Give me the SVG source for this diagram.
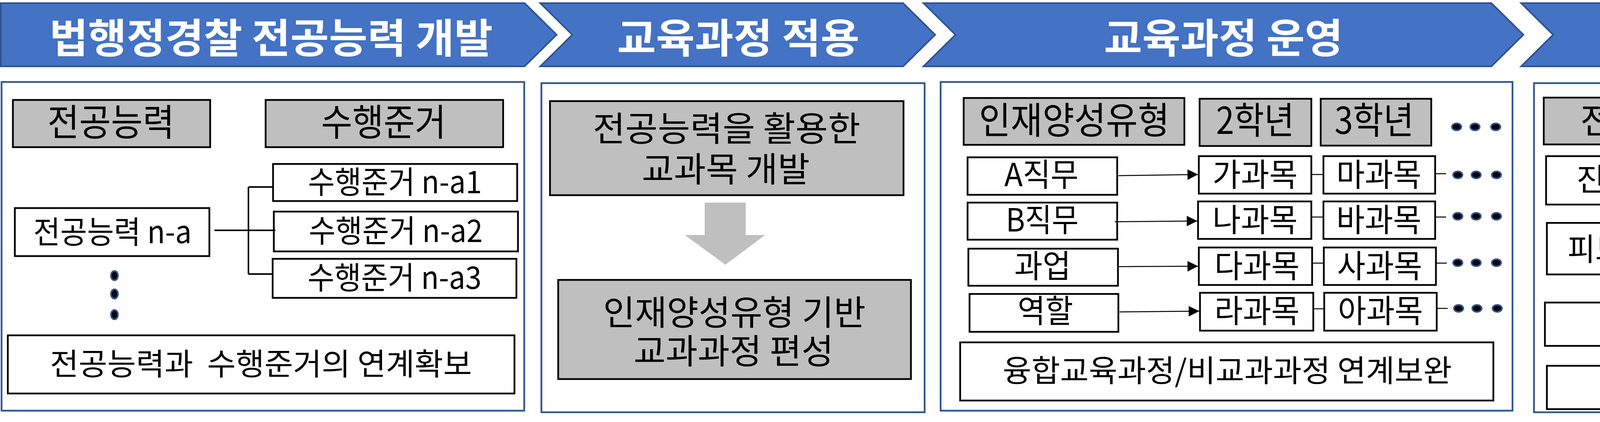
<svg xmlns="http://www.w3.org/2000/svg" width="5099" height="1081" viewBox="0 0 5099 1081">
<style>
.chev{fill:#4472C4;stroke:#2F528F;stroke-width:4}
.hd{font-family:"Noto Sans CJK KR","Noto Sans",sans-serif;font-weight:bold;font-size:104px;fill:#fff;text-anchor:middle}
.panel{fill:#fff;stroke:#2F5597;stroke-width:4.5}
.gbox{fill:#BFBFBF;stroke:#000;stroke-width:4.5}
.wbox{fill:#fff;stroke:#000;stroke-width:4.5}
.t{font-family:"Noto Sans CJK KR","Noto Sans",sans-serif;fill:#000;text-anchor:middle}
.t95{font-size:95px}
.t90{font-size:90px}
.t88{font-size:88px}
.t82{font-size:82px}
.t80{font-size:80px}
.t78{font-size:78px}
.ln{stroke:#000;stroke-width:4;fill:none}
.ar{stroke:#000;stroke-width:2.5;fill:none;marker-end:url(#ah)}
.thin{stroke:#000;stroke-width:2.5;fill:none}
.dot{fill:#000;stroke:#2F5597;stroke-width:4}
.big{fill:#BFBFBF}
</style>
<defs>
<marker id="ah" markerUnits="userSpaceOnUse" markerWidth="28" markerHeight="28" refX="27" refY="13.5" orient="auto">
<path d="M0,0 L27,13.5 L0,27 z" fill="#000"/>
</marker>
</defs>
<rect width="5099" height="1081" fill="#fff"/>

<g id="header1">
<polygon class="chev" points="2,8 1343,8 1425,89 1343,170 2,170"/>
<text class="hd" x="694" y="136" textLength="1135" lengthAdjust="spacingAndGlyphs">법행정경찰 전공능력 개발</text>
</g>
<g id="header2">
<polygon class="chev" points="1383,8 2312,8 2394,89 2312,170 1383,170 1465,89"/>
<text class="hd" x="1890" y="136" textLength="620" lengthAdjust="spacingAndGlyphs">교육과정 적용</text>
</g>
<g id="header3">
<polygon class="chev" points="2364,8 3818,8 3900,89 3818,170 2364,170 2446,89"/>
<text class="hd" x="3132" y="136" textLength="612" lengthAdjust="spacingAndGlyphs">교육과정 운영</text>
</g>
<g id="header4">
<polygon class="chev" points="3894,8 5014,8 5096,89 5014,170 3894,170 3976,89"/>
<text class="hd" x="4498" y="136" textLength="395" lengthAdjust="spacingAndGlyphs">수업평가</text>
</g>

<g id="panel1"><rect class="panel" x="4" y="210" width="1338" height="842"/></g>
<g id="panel2"><rect class="panel" x="1386" y="213" width="981" height="843"/></g>
<g id="panel3"><rect class="panel" x="2408" y="210" width="1464" height="842"/></g>
<g id="panel4"><rect class="panel" x="3927" y="213" width="1166" height="843"/></g>

<!-- Panel 1 -->
<g id="p1-competency-head"><rect class="gbox" x="33" y="256" width="505" height="121"/><text class="t t95" x="284" y="348" textLength="325" lengthAdjust="spacingAndGlyphs">전공능력</text></g>
<g id="p1-criteria-head"><rect class="gbox" x="680" y="256" width="608" height="121"/><text class="t t95" x="982" y="348" textLength="320" lengthAdjust="spacingAndGlyphs">수행준거</text></g>
<g id="p1-competency"><rect class="wbox" x="38" y="533" width="498" height="123"/><text class="t t80" x="288" y="623" textLength="405" lengthAdjust="spacingAndGlyphs">전공능력 n-a</text></g>
<g id="p1-a1"><rect class="wbox" x="699" y="420" width="625" height="95"/><text class="t t80" x="1011" y="495" textLength="445" lengthAdjust="spacingAndGlyphs">수행준거 n-a1</text></g>
<g id="p1-a2"><rect class="wbox" x="701" y="542" width="625" height="102"/><text class="t t80" x="1013" y="620" textLength="445" lengthAdjust="spacingAndGlyphs">수행준거 n-a2</text></g>
<g id="p1-a3"><rect class="wbox" x="698" y="663" width="624" height="100"/><text class="t t80" x="1010" y="740" textLength="445" lengthAdjust="spacingAndGlyphs">수행준거 n-a3</text></g>
<g id="p1-dots">
<ellipse class="dot" cx="293" cy="706" rx="9" ry="12"/>
<ellipse class="dot" cx="293" cy="753" rx="9" ry="12"/>
<ellipse class="dot" cx="293" cy="806" rx="9" ry="12"/>
</g>
<g id="p1-link"><rect class="wbox" x="20" y="859" width="1297" height="149"/><text class="t t78" x="668" y="961" textLength="1080" lengthAdjust="spacingAndGlyphs" xml:space="preserve">전공능력과  수행준거의 연계확보</text></g>

<!-- Panel 2 -->
<g id="p2-develop"><rect class="gbox" x="1408" y="259" width="905" height="241"/>
<text class="t t88"><tspan x="1860" y="361" textLength="685" lengthAdjust="spacingAndGlyphs">전공능력을 활용한</tspan><tspan x="1858" y="465" textLength="430" lengthAdjust="spacingAndGlyphs">교과목 개발</tspan></text></g>
<g id="p2-arrow"><polygon class="big" points="1804,519 1909,519 1909,602 1959,602 1857,678 1753,602 1804,602"/></g>
<g id="p2-compose"><rect class="gbox" x="1429" y="717" width="903" height="254"/>
<text class="t t88"><tspan x="1880" y="832" textLength="672" lengthAdjust="spacingAndGlyphs">인재양성유형 기반</tspan><tspan x="1878" y="931" textLength="512" lengthAdjust="spacingAndGlyphs">교과과정 편성</tspan></text></g>

<!-- Panel 3 -->
<g id="p3-type-head"><rect class="gbox" x="2467" y="251" width="565" height="120"/><text class="t t95" x="2750" y="343" textLength="488" lengthAdjust="spacingAndGlyphs">인재양성유형</text></g>
<g id="p3-y2-head"><rect class="gbox" x="3071" y="253" width="286" height="121"/><text class="t t95" x="3213" y="343" textLength="200" lengthAdjust="spacingAndGlyphs">2학년</text></g>
<g id="p3-y3-head"><rect class="gbox" x="3381" y="253" width="283" height="120"/><text class="t t95" x="3518" y="343" textLength="203" lengthAdjust="spacingAndGlyphs">3학년</text></g>

<g id="p3-a"><rect class="wbox" x="2477" y="403" width="383" height="96"/><text class="t t82" x="2666" y="477" textLength="190" lengthAdjust="spacingAndGlyphs">A직무</text></g>
<g id="p3-b"><rect class="wbox" x="2477" y="519" width="383" height="95"/><text class="t t82" x="2668" y="593" textLength="186" lengthAdjust="spacingAndGlyphs">B직무</text></g>
<g id="p3-task"><rect class="wbox" x="2479" y="637" width="383" height="95"/><text class="t t82" x="2669" y="711" textLength="145" lengthAdjust="spacingAndGlyphs">과업</text></g>
<g id="p3-role"><rect class="wbox" x="2482" y="753" width="381" height="97"/><text class="t t82" x="2676" y="826" textLength="142" lengthAdjust="spacingAndGlyphs">역할</text></g>

<g id="p3-ga"><rect class="wbox" x="3069" y="400" width="288" height="96"/><text class="t t82" x="3213" y="477" textLength="218" lengthAdjust="spacingAndGlyphs">가과목</text></g>
<g id="p3-na"><rect class="wbox" x="3067" y="516" width="290" height="96"/><text class="t t82" x="3213" y="593" textLength="218" lengthAdjust="spacingAndGlyphs">나과목</text></g>
<g id="p3-da"><rect class="wbox" x="3069" y="634" width="290" height="96"/><text class="t t82" x="3218" y="711" textLength="218" lengthAdjust="spacingAndGlyphs">다과목</text></g>
<g id="p3-ra"><rect class="wbox" x="3072" y="750" width="290" height="97"/><text class="t t82" x="3218" y="826" textLength="218" lengthAdjust="spacingAndGlyphs">라과목</text></g>

<g id="p3-ma"><rect class="wbox" x="3388" y="400" width="286" height="96"/><text class="t t82" x="3530" y="477" textLength="218" lengthAdjust="spacingAndGlyphs">마과목</text></g>
<g id="p3-ba"><rect class="wbox" x="3388" y="516" width="286" height="96"/><text class="t t82" x="3530" y="593" textLength="218" lengthAdjust="spacingAndGlyphs">바과목</text></g>
<g id="p3-sa"><rect class="wbox" x="3389" y="634" width="287" height="96"/><text class="t t82" x="3532" y="711" textLength="218" lengthAdjust="spacingAndGlyphs">사과목</text></g>
<g id="p3-aa"><rect class="wbox" x="3390" y="750" width="288" height="97"/><text class="t t82" x="3534" y="826" textLength="218" lengthAdjust="spacingAndGlyphs">아과목</text></g>

<g id="p3-dots">
<ellipse class="dot" cx="3729" cy="325" rx="12" ry="9"/>
<ellipse class="dot" cx="3776" cy="325" rx="12" ry="9"/>
<ellipse class="dot" cx="3829" cy="325" rx="12" ry="9"/>
<ellipse class="dot" cx="3732" cy="448" rx="12" ry="9"/>
<ellipse class="dot" cx="3779" cy="448" rx="12" ry="9"/>
<ellipse class="dot" cx="3831" cy="448" rx="12" ry="9"/>
<ellipse class="dot" cx="3732" cy="554" rx="12" ry="9"/>
<ellipse class="dot" cx="3779" cy="554" rx="12" ry="9"/>
<ellipse class="dot" cx="3831" cy="554" rx="12" ry="9"/>
<ellipse class="dot" cx="3732" cy="673" rx="12" ry="9"/>
<ellipse class="dot" cx="3779" cy="673" rx="12" ry="9"/>
<ellipse class="dot" cx="3831" cy="673" rx="12" ry="9"/>
<ellipse class="dot" cx="3734" cy="790" rx="12" ry="9"/>
<ellipse class="dot" cx="3781" cy="790" rx="12" ry="9"/>
<ellipse class="dot" cx="3833" cy="790" rx="12" ry="9"/>
</g>
<g id="p3-link"><rect class="wbox" x="2458" y="877" width="1365" height="149"/><text class="t t78" x="3142" y="978" textLength="1150" lengthAdjust="spacingAndGlyphs">융합교육과정/비교과과정 연계보완</text></g>

<!-- Panel 4 -->
<g id="p4-plan"><rect class="gbox" x="3952" y="250" width="1116" height="120"/><text class="t t90" x="4508" y="341" textLength="925" lengthAdjust="spacingAndGlyphs">전공능력기반 수업계획서</text></g>
<g id="p4-diag"><rect class="wbox" x="3958" y="400" width="447" height="124"/><text class="t t80" x="4183" y="488" textLength="295" lengthAdjust="spacingAndGlyphs">진단평가</text></g>
<g id="p4-attend"><rect class="wbox" x="4594" y="397" width="474" height="125"/><text class="t t80" x="4833" y="488" textLength="287" lengthAdjust="spacingAndGlyphs">출석평가</text></g>
<g id="p4-feedback"><rect class="wbox" x="3960" y="571" width="323" height="132"/><text class="t t80" x="4119" y="667" textLength="212" lengthAdjust="spacingAndGlyphs">피드백</text></g>
<g id="p4-perform"><rect class="wbox" x="4422" y="574" width="659" height="132"/><text class="t t80" x="4753" y="667" textLength="588" lengthAdjust="spacingAndGlyphs">전공능력수행평가</text></g>
<g id="p4-achieve"><rect class="wbox" x="3955" y="775" width="1109" height="111"/><text class="t t80" x="4511" y="860" textLength="828" lengthAdjust="spacingAndGlyphs">전공능력수행성취도 산출</text></g>
<g id="p4-cqi"><rect class="wbox" x="3960" y="937" width="1110" height="111"/><text class="t t80" x="4514" y="1020" textLength="510" lengthAdjust="spacingAndGlyphs">교과목 CQI 작성</text></g>

<g id="connectors">
<path class="ln" d="M549,590 H705 M636,479 V702 M636,479 H699 M636,702 H698"/>
<line class="ar" x1="2863" y1="450" x2="3067" y2="447"/>
<line class="ar" x1="2854" y1="568" x2="3065" y2="566"/>
<line class="ar" x1="2864" y1="683" x2="3067" y2="682"/>
<line class="ar" x1="2866" y1="799" x2="3070" y2="797"/>
<path class="thin" d="M3357,447 H3388 M3357,556 H3388 M3359,674 H3389 M3362,791 H3390"/>
<path class="thin" d="M3674,445 H3702 M3674,556 H3702 M3676,674 H3704 M3678,790 H3706"/>
<line class="ar" x1="4407" y1="462" x2="4592" y2="460"/>
<line class="ar" x1="4743" y1="513" x2="4743" y2="574"/>
<line class="ar" x1="4413" y1="602" x2="4279" y2="600"/>
<line class="ar" x1="4288" y1="640" x2="4420" y2="641"/>
<line class="ar" x1="4743" y1="708" x2="4743" y2="773"/>
<line class="ar" x1="4514" y1="878" x2="4514" y2="937"/>
</g>
</svg>
